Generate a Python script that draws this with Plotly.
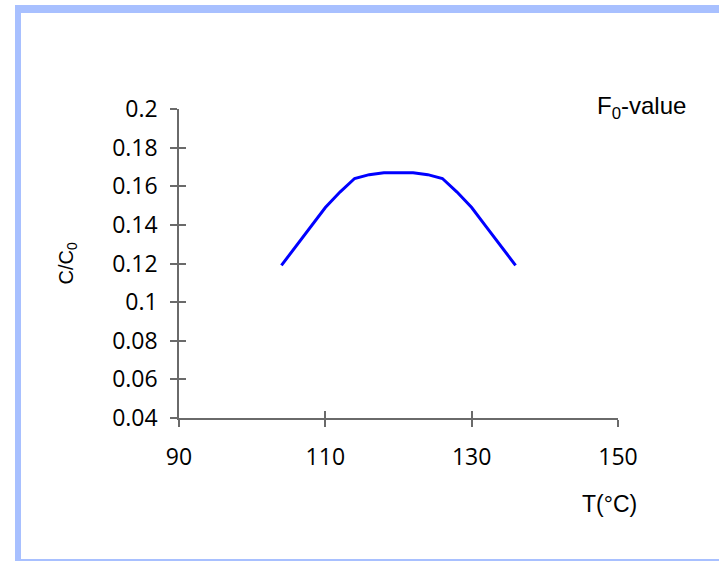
import plotly.graph_objects as go

# Data
temperature = [104, 106, 108, 110, 112, 114, 116, 118, 120, 122, 124, 126, 128, 130, 132, 134, 136]
concentration = [0.119, 0.129, 0.139, 0.149, 0.157, 0.164, 0.166, 0.167, 0.167, 0.167, 0.166, 0.164, 0.157, 0.149, 0.139, 0.129, 0.119]
x_ticks = [90, 110, 130, 150]
y_ticks = [0.04, 0.06, 0.08, 0.1, 0.12, 0.14, 0.16, 0.18, 0.2]
y_tick_text = ["0.04", "0.06", "0.08", "0.1", "0.12", "0.14", "0.16", "0.18", "0.2"]

W, H = 719, 563
L, R, T, B = 179, 618, 109, 418
pw, ph = R - L, B - T


def px(x):
    return (x - L) / pw


def py(y):
    return (B - y) / ph


fig = go.Figure()
fig.add_trace(go.Scatter(x=temperature, y=concentration, mode="lines",
                         line=dict(color="#0000ff", width=3), showlegend=False,
                         hoverinfo="skip", xaxis="x", yaxis="y"))
# invisible trace for overlay axes
fig.add_trace(go.Scatter(x=[None], y=[None], xaxis="x2", yaxis="y2", showlegend=False,
                         hoverinfo="skip"))

tick_font = dict(family="Open Sans, sans-serif", size=23, color="#000000")
axis_color = "#6a6a6a"

common_x = dict(range=[90, 150], tickvals=x_ticks, showgrid=False, zeroline=False,
                linecolor=axis_color, linewidth=1.5, tickcolor=axis_color, tickwidth=1.5,
                ticklen=7, fixedrange=True)
common_y = dict(range=[0.04, 0.2], tickvals=y_ticks, showgrid=False, zeroline=False,
                linecolor=axis_color, linewidth=1.5, tickcolor=axis_color, tickwidth=1.5,
                ticklen=7, fixedrange=True)

fig.update_layout(
    width=W, height=H,
    margin=dict(l=L, r=W - R, t=T, b=H - B),
    paper_bgcolor="white", plot_bgcolor="white",
    xaxis=dict(**common_x, showline=True, ticks="outside", tickfont=tick_font,
               ticklabelstandoff=11),
    yaxis=dict(**common_y, showline=True, ticks="outside", tickfont=tick_font,
               ticktext=y_tick_text, ticklabelstandoff=8),
    xaxis2=dict(**common_x, overlaying="x", showline=False, ticks="inside",
                showticklabels=False, anchor="y2"),
    yaxis2=dict(**common_y, overlaying="y", showline=False, ticks="inside",
                showticklabels=False, anchor="x2"),
)

frame_color = "#a8c0ff"
shapes = [
    dict(type="rect", xref="paper", yref="paper", x0=px(15), x1=px(21), y0=py(561), y1=py(5),
         fillcolor=frame_color, line=dict(width=0), layer="below"),
    dict(type="rect", xref="paper", yref="paper", x0=px(15), x1=px(720), y0=py(13), y1=py(5),
         fillcolor=frame_color, line=dict(width=0), layer="below"),
    dict(type="rect", xref="paper", yref="paper", x0=px(15), x1=px(720), y0=py(561), y1=py(559),
         fillcolor=frame_color, line=dict(width=0), layer="below"),
]
fig.update_layout(shapes=shapes)

ann_font = dict(family="Liberation Sans, Arial, sans-serif", color="#000000")
fig.add_annotation(xref="paper", yref="paper", x=px(639), y=py(504), xanchor="right", yanchor="middle",
                   text="T(°C)", showarrow=False, font=dict(**ann_font, size=23))
fig.add_annotation(xref="paper", yref="paper", x=px(67), y=py(263.5), xanchor="center", yanchor="middle",
                   text="C/C<sub>0</sub>", textangle=-90, showarrow=False, font=dict(**ann_font, size=20))
fig.add_annotation(xref="paper", yref="paper", x=px(595), y=py(107), xanchor="left", yanchor="middle",
                   text="F<sub>0</sub>-value", showarrow=False, font=dict(**ann_font, size=24))

fig.write_html("out.html", config={"displayModeBar": False},
               post_script=["document.body.style.margin='0';document.body.style.overflow='hidden';"])
